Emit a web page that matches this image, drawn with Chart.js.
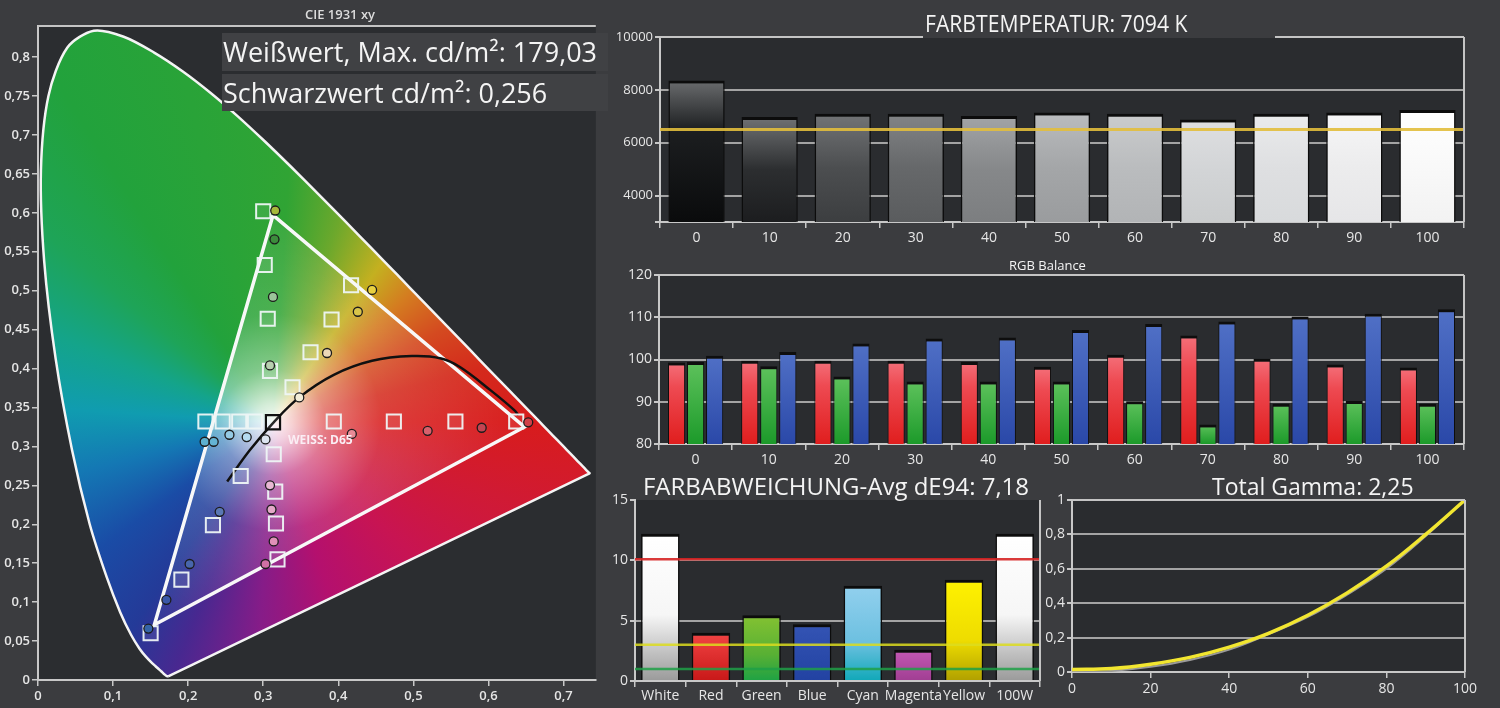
<!DOCTYPE html>
<html lang="de">
<head>
<meta charset="UTF-8">
<title>Messbericht Projektor</title>
<script src="https://cdn.jsdelivr.net/npm/chart.js"></script>
<style>
  body { margin: 0; width: 1500px; height: 708px; overflow: hidden; position: relative; background: #3b3c3f; font-family: "Open Sans", sans-serif; }
  .box { position: absolute; }
  .titel { position: absolute; color: #f4f4f4; background: #3b3c3f; white-space: nowrap; }
  .wert { position: absolute; left: 222px; width: 386px; background: #404144; color: #f4f4f4; font-size: 27px; white-space: nowrap; padding-left: 1px; box-sizing: border-box; }
</style>
</head>
<body>
  <div class="box" style="left:0;top:0;width:608px;height:708px"><canvas id="cie"></canvas></div>
  <div class="box" style="left:605px;top:0;width:895px;height:250px"><canvas id="temp"></canvas></div>
  <div class="box" style="left:605px;top:250px;width:895px;height:220px"><canvas id="rgb"></canvas></div>
  <div class="box" style="left:605px;top:470px;width:440px;height:238px"><canvas id="delta"></canvas></div>
  <div class="box" style="left:1040px;top:470px;width:460px;height:238px"><canvas id="gamma"></canvas></div>

  <div class="titel" style="left:240px;top:5px;width:200px;text-align:center;font-size:13px;font-weight:600;color:#dcdcdc;background:none">CIE 1931 xy</div>
  <div class="wert" style="top:33px;height:38px;line-height:38px">Weißwert, Max. cd/m²: 179,03</div>
  <div class="wert" style="top:74px;height:37px;line-height:37px">Schwarzwert cd/m²: 0,256</div>
  <div class="titel" style="left:923px;top:9px;width:350px;height:29px;line-height:29px;font-size:23px;padding-left:2px"><span style="display:inline-block;transform:scaleX(.92);transform-origin:left center">FARBTEMPERATUR: 7094 K</span></div>
  <div class="titel" style="left:960px;top:256px;width:175px;text-align:center;font-size:13px;background:none">RGB Balance</div>
  <div class="titel" style="left:634px;top:472px;width:404px;height:27px;line-height:27px;font-size:24px;text-align:center">FARBABWEICHUNG-Avg dE94: 7,18</div>
  <div class="titel" style="left:1210px;top:473px;width:228px;height:26px;line-height:26px;font-size:23px;padding-left:2px">Total Gamma: 2,25</div>

<script>
  // ---------- CIE 1931 xy ----------
  const locusX = [0.1741, 0.1740, 0.1738, 0.1736, 0.1733, 0.1730, 0.1726, 0.1721, 0.1714, 0.1703, 0.1689, 0.1669, 0.1644, 0.1611, 0.1566, 0.1510, 0.1440, 0.1355, 0.1241, 0.1096, 0.0913, 0.0687, 0.0454, 0.0235, 0.0082, 0.0039, 0.0139, 0.0389, 0.0743, 0.1142, 0.1547, 0.1929, 0.2296, 0.2658, 0.3016, 0.3373, 0.3731, 0.4087, 0.4441, 0.4788, 0.5125, 0.5448, 0.5752, 0.6029, 0.6270, 0.6482, 0.6658, 0.6801, 0.6915, 0.7006, 0.7079, 0.7190, 0.7260, 0.7300, 0.7334, 0.7347, 0.1741];
  const locusY = [0.0050, 0.0050, 0.0049, 0.0049, 0.0048, 0.0048, 0.0048, 0.0048, 0.0051, 0.0058, 0.0069, 0.0086, 0.0109, 0.0138, 0.0177, 0.0227, 0.0297, 0.0399, 0.0578, 0.0868, 0.1327, 0.2007, 0.2950, 0.4127, 0.5384, 0.6548, 0.7502, 0.8120, 0.8338, 0.8262, 0.8059, 0.7816, 0.7543, 0.7243, 0.6923, 0.6589, 0.6245, 0.5896, 0.5547, 0.5202, 0.4866, 0.4544, 0.4242, 0.3965, 0.3725, 0.3514, 0.3340, 0.3197, 0.3083, 0.2993, 0.2920, 0.2809, 0.2740, 0.2700, 0.2666, 0.2653, 0.0050];

  const gamutX = [0.313, 0.648, 0.155, 0.313];
  const gamutY = [0.597, 0.325, 0.071, 0.597];

  const planckX = [0.252, 0.282, 0.313, 0.348, 0.394, 0.445, 0.498, 0.537, 0.562, 0.603, 0.634, 0.640];
  const planckY = [0.255, 0.295, 0.330, 0.363, 0.392, 0.410, 0.416, 0.413, 0.402, 0.372, 0.347, 0.340];

  // Sollwerte (Quadrate): Grün, Gelb, Rot, Magenta, Blau, Cyan
  const zielX = [0.300, 0.302, 0.306, 0.309,  0.417, 0.391, 0.363, 0.339,  0.637, 0.556, 0.474, 0.394,  0.319, 0.317, 0.316, 0.314,  0.150, 0.191, 0.233, 0.270,  0.223, 0.246, 0.268, 0.289];
  const zielY = [0.602, 0.533, 0.464, 0.397,  0.507, 0.463, 0.421, 0.376,  0.332, 0.332, 0.332, 0.332,  0.155, 0.201, 0.242, 0.290,  0.060, 0.129, 0.199, 0.262,  0.332, 0.332, 0.332, 0.332];
  const weissZiel = { x: 0.313, y: 0.331 };

  // Messwerte (Kreise)
  const messX = [0.316, 0.315, 0.313, 0.309,  0.445, 0.426, 0.385, 0.348,  0.653, 0.591, 0.519, 0.418,  0.303, 0.314, 0.311, 0.309,  0.147, 0.171, 0.202, 0.242,  0.222, 0.234, 0.255, 0.278,  0.303];
  const messY = [0.603, 0.566, 0.492, 0.404,  0.501, 0.473, 0.420, 0.363,  0.331, 0.324, 0.320, 0.316,  0.149, 0.178, 0.219, 0.250,  0.066, 0.103, 0.149, 0.216,  0.306, 0.306, 0.315, 0.312,  0.309];
  const messFarben = ['#a6b83a', '#3c8c3c', '#9cc49a', '#b8d0b0',  '#e8d040', '#d8c44a', '#ecd8b8', '#f2ecd8',  '#d04048', '#c44452', '#d8606c', '#e88a96',  '#d070a4', '#e090b8', '#e4a8c8', '#e8b8d4',  '#3464a8', '#3a58a8', '#4866ac', '#5a78b4',  '#5cb0d0', '#64b4d4', '#94cae4', '#b4daf0',  '#dce4f0'];

  const cieXTicks = [0, 0.1, 0.2, 0.3, 0.4, 0.5, 0.6, 0.7];
  const cieYTicks = [0, 0.05, 0.1, 0.15, 0.2, 0.25, 0.3, 0.35, 0.4, 0.45, 0.5, 0.55, 0.6, 0.65, 0.7, 0.75, 0.8];
  const weissLabel = { x: 0.333, y: 0.308, text: 'WEISS: D65' };

  // ---------- Farbtemperatur ----------
  const stufen = ['0', '10', '20', '30', '40', '50', '60', '70', '80', '90', '100'];
  const farbtemp = [8350, 6975, 7100, 7100, 7010, 7140, 7100, 6875, 7100, 7140, 7240];
  const zielTemp = 6500;
  const tempTicks = [3000, 4000, 6000, 8000, 10000];

  // ---------- RGB Balance ----------
  const rotWerte = [99.3, 99.7, 99.7, 99.7, 99.4, 98.3, 101.1, 105.7, 100.2, 98.8, 98.1];
  const gruenWerte = [99.4, 98.4, 96.0, 94.8, 94.8, 94.8, 90.1, 84.6, 89.5, 90.2, 89.5];
  const blauWerte = [100.9, 101.8, 103.8, 105.0, 105.2, 107.0, 108.4, 109.0, 110.2, 110.8, 111.9];
  const rgbTicks = [80, 90, 100, 110, 120];

  // ---------- Farbabweichung ----------
  const farbNamen = ['White', 'Red', 'Green', 'Blue', 'Cyan', 'Magenta', 'Yellow', '100W'];
  const deltaE = [12.2, 4.0, 5.45, 4.7, 7.9, 2.6, 8.4, 12.2];
  const deltaTicks = [0, 5, 10, 15];
  const deltaGrenzen = [10.1, 3.0, 1.0];

  // ---------- Gamma ----------
  const gammaX = [0, 10, 20, 30, 40, 50, 60, 70, 80, 90, 100];
  const gammaY = [0.015, 0.02, 0.045, 0.085, 0.145, 0.225, 0.33, 0.46, 0.615, 0.80, 1.0];
  const gammaZiel = [0, 0.006, 0.03, 0.07, 0.13, 0.22, 0.32, 0.45, 0.60, 0.79, 1.0];
  const gammaXTicks = [0, 20, 40, 60, 80, 100];
  const gammaYTicks = [0, 0.2, 0.4, 0.6, 0.8, 1];

  Chart.defaults.animation = false;
  Chart.defaults.events = [];
  Chart.defaults.color = '#e6e6e6';
  Chart.defaults.font.family = "'Open Sans', sans-serif";
  Chart.defaults.font.size = 14;
  Chart.defaults.plugins.legend.display = false;
  Chart.defaults.plugins.tooltip.enabled = false;

  const punkte = (xs, ys) => xs.map((x, i) => ({ x: x, y: ys[i] }));
  const komma = v => String(Math.round(v * 100) / 100).replace('.', ',');
  const feste = arr => s => { s.ticks = arr.map(v => ({ value: v })); };

  // Plotfläche + Rahmen oben/rechts
  const rahmen = {
    id: 'rahmen',
    beforeDraw(chart, args, o) {
      const { ctx, chartArea: a } = chart;
      ctx.save();
      ctx.fillStyle = o.bg || '#2a2c2f';
      ctx.fillRect(a.left, a.top, a.right - a.left, a.bottom - a.top);
      ctx.restore();
    },
    afterDraw(chart, args, o) {
      const { ctx, chartArea: a } = chart;
      ctx.save();
      ctx.strokeStyle = '#c4c4c4';
      ctx.lineWidth = 2;
      ctx.beginPath();
      if (o.oben) { ctx.moveTo(a.left, a.top); ctx.lineTo(a.right, a.top); }
      if (o.rechts) { ctx.moveTo(a.right, a.top); ctx.lineTo(a.right, a.bottom); }
      ctx.stroke();
      ctx.restore();
    }
  };

  // waagerechte Bezugslinien
  const bezug = {
    id: 'bezug',
    afterDatasetsDraw(chart, args, o) {
      if (!o.linien) return;
      const { ctx, chartArea: a, scales } = chart;
      ctx.save();
      o.linien.forEach(l => {
        const y = scales.y.getPixelForValue(l.wert);
        ctx.strokeStyle = l.farbe;
        ctx.lineWidth = l.breite;
        ctx.beginPath();
        ctx.moveTo(a.left, y);
        ctx.lineTo(a.right, y);
        ctx.stroke();
      });
      ctx.restore();
    }
  };

  function balkenVerlauf(c, stops) {
    const ch = c.chart, a = ch.chartArea;
    if (!a || !c.parsed) return stops[0][1];
    const top = ch.scales.y.getPixelForValue(c.parsed.y);
    const g = ch.ctx.createLinearGradient(0, top, 0, a.bottom);
    stops.forEach(s => g.addColorStop(s[0], s[1]));
    return g;
  }

  const achseX = { color: '#c8c8c8', width: 2 };
  const tickGitter = { drawOnChartArea: false, color: '#c8c8c8', tickLength: 6, lineWidth: 1.5 };

  // ================= CIE =================
  const cieFarben = [
    [0.00, '#d81c1c'], [0.05, '#d01a34'], [0.12, '#c81452'], [0.20, '#b4106e'],
    [0.26, '#861c88'], [0.31, '#482890'], [0.345, '#243a98'], [0.40, '#1a4ca6'],
    [0.46, '#1478b4'], [0.51, '#109cb0'], [0.56, '#14a48a'], [0.61, '#1ea458'],
    [0.66, '#22a23c'], [0.76, '#30a434'], [0.80, '#6ca82c'], [0.845, '#c4b020'],
    [0.88, '#d47c20'], [0.92, '#d44a20'], [0.96, '#d42a1c'], [1.00, '#d81c1c']
  ];

  new Chart(document.getElementById('cie'), {
    type: 'scatter',
    data: {
      datasets: [
        {
          type: 'line', data: punkte(locusX, locusY), order: 5,
          borderColor: '#f4f4f4', borderWidth: 2.5, pointRadius: 0, tension: 0.3, fill: 'shape',
          backgroundColor(c) {
            const ch = c.chart;
            if (!ch.chartArea) return '#22a23c';
            const cx = ch.scales.x.getPixelForValue(weissZiel.x), cy = ch.scales.y.getPixelForValue(weissZiel.y);
            const g = ch.ctx.createConicGradient(0, cx, cy);
            cieFarben.forEach(s => g.addColorStop(s[0], s[1]));
            return g;
          }
        },
        {
          type: 'line', data: punkte(gamutX, gamutY), order: 4,
          borderColor: '#f8f8f8', borderWidth: 3.5, pointRadius: 0, tension: 0, fill: 'shape',
          backgroundColor(c) {
            const ch = c.chart;
            if (!ch.chartArea) return 'rgba(255,255,255,0.3)';
            const cx = ch.scales.x.getPixelForValue(weissZiel.x), cy = ch.scales.y.getPixelForValue(weissZiel.y);
            const g = ch.ctx.createRadialGradient(cx, cy, 0, cx, cy, 240);
            g.addColorStop(0, 'rgba(255,255,255,0.96)');
            g.addColorStop(0.08, 'rgba(255,255,255,0.8)');
            g.addColorStop(0.22, 'rgba(255,255,255,0.42)');
            g.addColorStop(0.45, 'rgba(255,255,255,0.14)');
            g.addColorStop(1, 'rgba(255,255,255,0.02)');
            return g;
          }
        },
        {
          type: 'line', data: punkte(planckX, planckY), order: 3,
          borderColor: '#111111', borderWidth: 2.5, pointRadius: 0, tension: 0.4, fill: false
        },
        {
          data: punkte(zielX, zielY), order: 2,
          pointStyle: 'rect', pointRadius: 10, borderWidth: 2,
          borderColor: 'rgba(238,246,246,0.95)', backgroundColor: 'rgba(255,255,255,0.08)'
        },
        {
          data: punkte(messX, messY), order: 1,
          pointStyle: 'circle', pointRadius: 4.5, borderWidth: 1.3,
          borderColor: '#1c1c1c', backgroundColor: messFarben
        },
        {
          data: [weissZiel], order: 0,
          pointStyle: 'rect', pointRadius: 10, borderWidth: 2.2,
          borderColor: '#101010', backgroundColor: 'rgba(255,255,255,0.1)'
        }
      ]
    },
    options: {
      responsive: true, maintainAspectRatio: false,
      layout: { padding: { top: 26, right: 3, left: 0, bottom: 0 } },
      scales: {
        x: {
          type: 'linear', min: 0, max: 0.743,
          afterBuildTicks: feste(cieXTicks),
          afterFit(s) { s.height = 28; },
          ticks: { callback: komma, font: { size: 13, weight: '600' }, padding: 2, maxRotation: 0 },
          grid: tickGitter, border: achseX
        },
        y: {
          type: 'linear', min: 0, max: 0.84,
          afterBuildTicks: feste(cieYTicks),
          afterFit(s) { s.width = 38; },
          ticks: { callback: komma, font: { size: 13, weight: '600' }, padding: 2 },
          grid: tickGitter, border: achseX
        }
      },
      plugins: { rahmen: { oben: true, rechts: false, bg: '#2b2d30' } }
    },
    plugins: [rahmen, {
      id: 'weissText',
      afterDatasetsDraw(chart) {
        const { ctx, scales } = chart;
        ctx.save();
        ctx.font = "bold 12px 'Open Sans', sans-serif";
        ctx.fillStyle = '#fbeef4';
        ctx.textBaseline = 'middle';
        ctx.fillText(weissLabel.text, scales.x.getPixelForValue(weissLabel.x), scales.y.getPixelForValue(weissLabel.y));
        ctx.restore();
      }
    }]
  });

  // ================= Farbtemperatur =================
  const grauVerlauf = [
    [[0, '#6a6c6e'], [0.35, '#1c1e20'], [1, '#0a0b0c']],
    [[0, '#707274'], [0.5, '#2c2e30'], [1, '#1c1d1f']],
    [[0, '#727476'], [0.5, '#4c4e50'], [1, '#3c3e40']],
    [[0, '#828486'], [0.5, '#66686a'], [1, '#5a5c5e']],
    [[0, '#a2a4a6'], [0.5, '#86888a'], [1, '#7c7e80']],
    [[0, '#babcbe'], [0.5, '#a4a6a8'], [1, '#9a9c9e']],
    [[0, '#cacccd'], [0.5, '#babcbe'], [1, '#b2b4b6']],
    [[0, '#dedfe1'], [0.5, '#d2d4d6'], [1, '#cacccd']],
    [[0, '#eaebec'], [0.5, '#dedfe1'], [1, '#d8dadc']],
    [[0, '#f6f6f7'], [0.5, '#ececed'], [1, '#e6e6e8']],
    [[0, '#ffffff'], [0.5, '#f9f9f9'], [1, '#f2f2f2']]
  ];

  new Chart(document.getElementById('temp'), {
    type: 'bar',
    data: {
      labels: stufen,
      datasets: [{
        data: farbtemp,
        backgroundColor: c => balkenVerlauf(c, grauVerlauf[c.dataIndex]),
        borderColor: '#0c0c0c', borderWidth: { top: 3, left: 1.5, right: 1.5, bottom: 0 }, borderSkipped: false,
        barPercentage: 0.77, categoryPercentage: 1
      }]
    },
    options: {
      responsive: true, maintainAspectRatio: false,
      layout: { padding: { top: 37, right: 36, left: 0, bottom: 0 } },
      scales: {
        x: {
          afterFit(s) { s.height = 28; },
          ticks: { font: { size: 14 }, padding: 2, maxRotation: 0, autoSkip: false },
          grid: tickGitter, border: achseX
        },
        y: {
          min: 3000, max: 10000,
          afterBuildTicks: feste(tempTicks),
          afterFit(s) { s.width = 55; },
          ticks: { font: { size: 13 }, padding: 2, callback: v => v === 3000 ? '' : String(v) },
          grid: { color: '#a4a4a4', lineWidth: 2, tickColor: '#c8c8c8', tickLength: 5 },
          border: achseX
        }
      },
      plugins: {
        rahmen: { oben: true, rechts: true },
        bezug: { linien: [{ wert: zielTemp, farbe: 'rgba(226,190,60,0.9)', breite: 3 }] }
      }
    },
    plugins: [rahmen, bezug]
  });

  // ================= RGB Balance =================
  const rgbVerlauf = {
    rot: [[0, '#f4707a'], [0.3, '#ee4a52'], [1, '#e01e1e']],
    gruen: [[0, '#5ec25c'], [1, '#1c9a2a']],
    blau: [[0, '#5070c6'], [1, '#2a48a8']]
  };
  const rgbSatz = (werte, verlauf) => ({
    data: werte,
    backgroundColor: c => balkenVerlauf(c, verlauf),
    borderColor: '#0e0e0e', borderWidth: { top: 3, left: 1, right: 1, bottom: 0 }, borderSkipped: false,
    barPercentage: 0.9, categoryPercentage: 0.78
  });

  new Chart(document.getElementById('rgb'), {
    type: 'bar',
    data: {
      labels: stufen,
      datasets: [rgbSatz(rotWerte, rgbVerlauf.rot), rgbSatz(gruenWerte, rgbVerlauf.gruen), rgbSatz(blauWerte, rgbVerlauf.blau)]
    },
    options: {
      responsive: true, maintainAspectRatio: false,
      layout: { padding: { top: 25, right: 36, left: 0, bottom: 0 } },
      scales: {
        x: {
          afterFit(s) { s.height = 26; },
          ticks: { font: { size: 14 }, padding: 2, maxRotation: 0, autoSkip: false },
          grid: tickGitter, border: achseX
        },
        y: {
          min: 80, max: 120,
          afterBuildTicks: feste(rgbTicks),
          afterFit(s) { s.width = 54; },
          ticks: { font: { size: 14 }, padding: 2 },
          grid: { color: '#a4a4a4', lineWidth: 2, tickColor: '#c8c8c8', tickLength: 5 },
          border: achseX
        }
      },
      plugins: { rahmen: { oben: true, rechts: true } }
    },
    plugins: [rahmen]
  });

  // ================= Farbabweichung =================
  const weissVerlauf = [[0, '#ffffff'], [0.55, '#f6f6f6'], [1, '#9a9a9a']];
  const deltaVerlauf = [
    weissVerlauf,
    [[0, '#f24444'], [1, '#c81818']],
    [[0, '#84c232'], [0.6, '#58b034'], [1, '#1ea244']],
    [[0, '#3454b4'], [1, '#2242a2']],
    [[0, '#92d0ee'], [0.6, '#6cc0e0'], [1, '#10a8b8']],
    [[0, '#c458b4'], [1, '#a03e92']],
    [[0, '#fff200'], [0.6, '#eedc00'], [1, '#b0a000']],
    weissVerlauf
  ];

  new Chart(document.getElementById('delta'), {
    type: 'bar',
    data: {
      labels: farbNamen,
      datasets: [{
        data: deltaE,
        backgroundColor: c => balkenVerlauf(c, deltaVerlauf[c.dataIndex]),
        borderColor: '#0c0c0c', borderWidth: { top: 3, left: 1.5, right: 1.5, bottom: 0 }, borderSkipped: false,
        barPercentage: 0.76, categoryPercentage: 1
      }]
    },
    options: {
      responsive: true, maintainAspectRatio: false,
      layout: { padding: { top: 30, right: 5, left: 0, bottom: 0 } },
      scales: {
        x: {
          afterFit(s) { s.height = 27; },
          ticks: { font: { size: 14 }, padding: 1, maxRotation: 0, autoSkip: false },
          grid: tickGitter, border: achseX
        },
        y: {
          min: 0, max: 15,
          afterBuildTicks: feste(deltaTicks),
          afterFit(s) { s.width = 30; },
          ticks: { font: { size: 14 }, padding: 2 },
          grid: { color: c => c.tick && c.tick.value === 15 ? 'rgba(0,0,0,0)' : '#a4a4a4', lineWidth: 2, tickColor: '#c8c8c8', tickLength: 5 },
          border: achseX
        }
      },
      plugins: {
        rahmen: { oben: false, rechts: true },
        bezug: { linien: [
          { wert: deltaGrenzen[0], farbe: 'rgba(214,36,36,0.9)', breite: 2.5 },
          { wert: deltaGrenzen[1], farbe: 'rgba(220,220,30,0.85)', breite: 2.5 },
          { wert: deltaGrenzen[2], farbe: 'rgba(30,160,70,0.85)', breite: 2.5 }
        ] }
      }
    },
    plugins: [rahmen, bezug]
  });

  // ================= Gamma =================
  new Chart(document.getElementById('gamma'), {
    type: 'line',
    data: {
      datasets: [
        { data: punkte(gammaX, gammaY), borderColor: '#f2e630', borderWidth: 3.5, pointRadius: 0, tension: 0.4 },
        { data: punkte(gammaX, gammaZiel), borderColor: '#9a9a9a', borderWidth: 2, pointRadius: 0, tension: 0.4 }
      ]
    },
    options: {
      responsive: true, maintainAspectRatio: false,
      layout: { padding: { top: 30, right: 35, left: 0, bottom: 0 } },
      scales: {
        x: {
          type: 'linear', min: 0, max: 100,
          afterBuildTicks: feste(gammaXTicks),
          afterFit(s) { s.height = 36; },
          ticks: { font: { size: 14 }, padding: 3, maxRotation: 0 },
          grid: tickGitter, border: achseX
        },
        y: {
          min: 0, max: 1,
          afterBuildTicks: feste(gammaYTicks),
          afterFit(s) { s.width = 32; },
          ticks: { font: { size: 14 }, padding: 2, callback: komma },
          grid: { color: '#a4a4a4', lineWidth: 2, tickColor: '#c8c8c8', tickLength: 5 },
          border: achseX
        }
      },
      plugins: { rahmen: { oben: true, rechts: true } }
    },
    plugins: [rahmen]
  });
</script>
</body>
</html>
